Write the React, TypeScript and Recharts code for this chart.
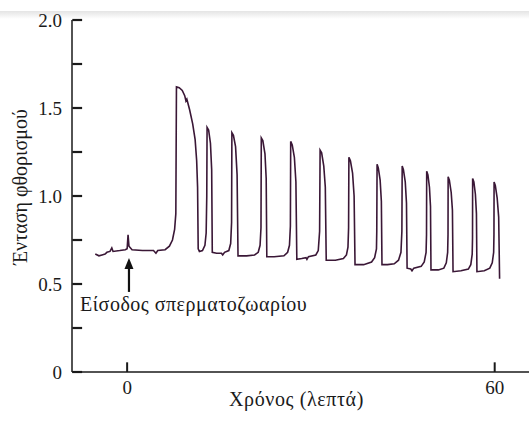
import React from 'react';
import {
  LineChart,
  Line,
  XAxis,
  YAxis,
  ReferenceLine,
  ReferenceDot,
  Customized,
} from 'recharts';

// time in minutes (sperm entry at 0) and fluorescence intensity
const timeMin = [
  -5.2, -4.6, -4.1, -3.6, -3.3, -2.8, -2.5, -2.3, -1.2, -0.3, 0.0, 0.15, 0.3, 0.8, 2.5, 4.3, 4.7, 5.0, 6.2, 6.9,
  7.4, 7.75, 7.95, 8.05, 8.5, 9.0, 9.4, 9.6, 9.75, 10.2, 10.7, 11.1, 11.35, 11.5, 11.6,
  11.8, 12.3, 12.7, 12.9, 13.0, 13.05, 13.3, 13.6, 13.8, 13.9,
  14.6, 15.4, 15.6, 15.9, 16.6, 16.9, 17.05, 17.1, 17.35, 17.7, 17.95, 18.1,
  19.5, 20.8, 21.4, 21.7, 21.85, 21.9, 22.15, 22.5, 22.7, 22.8,
  24.0, 25.6, 26.2, 26.5, 26.65, 26.7, 26.95, 27.3, 27.55, 27.7,
  28.5, 29.2, 29.35, 29.6, 30.8, 31.2, 31.42, 31.5, 31.75, 32.1, 32.35, 32.5,
  34.0, 35.3, 35.8, 36.05, 36.15, 36.2, 36.45, 36.8, 37.05, 37.2,
  38.6, 39.9, 40.4, 40.7, 40.75, 40.8, 41.0, 41.3, 41.5, 41.6,
  42.5, 43.6, 44.3, 44.7, 44.85, 44.9, 45.1, 45.4, 45.6, 45.7,
  46.3, 46.5, 46.8, 48.0, 48.5, 48.8, 48.87, 48.9, 49.1, 49.35, 49.52, 49.6,
  50.8, 51.7, 52.1, 52.32, 52.38, 52.4, 52.6, 52.9, 53.1, 53.2,
  54.5, 55.7, 56.1, 56.33, 56.38, 56.4, 56.6, 56.85, 57.02, 57.1,
  58.3, 59.2, 59.6, 59.83, 59.88, 59.9, 60.1, 60.4, 60.65, 60.8,
];

const intensity = [
  0.67, 0.66, 0.665, 0.67, 0.68, 0.685, 0.705, 0.685, 0.69, 0.695, 0.7, 0.78, 0.715, 0.695, 0.69, 0.69, 0.675, 0.69, 0.695, 0.715,
  0.75, 0.81, 0.9, 1.62, 1.615, 1.6, 1.57, 1.54, 1.55, 1.49, 1.41, 1.32, 1.2, 1.05, 0.7,
  0.685, 0.69, 0.72, 0.79, 1.0, 1.39, 1.375, 1.3, 1.15, 0.68,
  0.675, 0.675, 0.665, 0.68, 0.69, 0.73, 0.85, 1.36, 1.345, 1.28, 1.12, 0.66,
  0.66, 0.665, 0.68, 0.72, 0.82, 1.33, 1.315, 1.24, 1.1, 0.655,
  0.655, 0.66, 0.68, 0.72, 0.83, 1.31, 1.29, 1.22, 1.08, 0.64,
  0.645, 0.65, 0.64, 0.655, 0.665, 0.69, 0.8, 1.26, 1.245, 1.17, 1.05, 0.635,
  0.635, 0.645, 0.665, 0.71, 0.82, 1.22, 1.2, 1.13, 1.0, 0.61,
  0.61, 0.625, 0.65, 0.7, 0.8, 1.18, 1.16, 1.09, 0.97, 0.61,
  0.61, 0.615, 0.635, 0.68, 0.8, 1.17, 1.15, 1.08, 0.96, 0.59,
  0.585, 0.575, 0.59, 0.6, 0.625, 0.68, 0.78, 1.14, 1.12, 1.05, 0.94, 0.58,
  0.58, 0.59, 0.62, 0.68, 0.78, 1.11, 1.09, 1.02, 0.92, 0.57,
  0.575, 0.585, 0.61, 0.67, 0.76, 1.1, 1.08, 1.01, 0.9, 0.57,
  0.575, 0.59, 0.62, 0.68, 0.78, 1.08, 1.06, 0.99, 0.88, 0.53,
];

const xTicks = [0, 60];
const yTicks = [0, 0.25, 0.5, 0.75, 1.0, 1.25, 1.5, 1.75, 2.0];

const X_MIN = -9;
const X_MAX = 65.6;
const Y_MAX = 2;

const data = timeMin.map((t, i) => ({ t, v: intensity[i] }));

const FONT = "'Liberation Serif', 'Times New Roman', Times, serif";
const INK = '#1a1a1a';

// inward tick length, in data units (about 10px on each axis)
const Y_TICK_LEN = 1.65;
const X_TICK_LEN = 0.055;

function yLabel(v: number) {
  if (v === 0) return '0';
  return (v * 2) % 1 === 0 ? v.toFixed(1) : '';
}

function ArrowHead({ cx, cy }: { cx?: number; cy?: number }) {
  if (cx == null || cy == null) return null;
  return <path d={`M${cx},${cy} L${cx - 4.5},${cy + 11} L${cx + 4.5},${cy + 11} Z`} fill="#111" />;
}

function Annotations() {
  return (
    <g fill={INK} fontFamily={FONT}>
      <text x={20} y={187} fontSize={20} textAnchor="middle" dominantBaseline="central" transform="rotate(-90 20 187)">
        Ένταση φθορισμού
      </text>
      <text x={80} y={311} fontSize={20} letterSpacing={0.5}>
        Είσοδος σπερματοζωαρίου
      </text>
    </g>
  );
}

export default function App() {
  const yTickLines = yTicks.map((v) => (
    <ReferenceLine
      key={`yt${v}`}
      segment={[
        { x: X_MIN + 0.05, y: v },
        { x: X_MIN + Y_TICK_LEN, y: v },
      ]}
      ifOverflow="visible"
      stroke={INK}
      strokeWidth={2.2}
    />
  ));
  const xTickLines = xTicks.map((t) => (
    <ReferenceLine
      key={`xt${t}`}
      segment={[
        { x: t, y: 0 },
        { x: t, y: X_TICK_LEN },
      ]}
      ifOverflow="visible"
      stroke={INK}
      strokeWidth={2}
    />
  ));

  return (
    <div style={{ position: 'absolute', left: 0, top: 0, width: 529, height: 421, background: '#fff' }}>
      <div
        style={{
          position: 'absolute',
          left: 0,
          top: 11,
          width: 529,
          height: 8,
          background: 'linear-gradient(#e4e4e4, #ffffff)',
        }}
      />
      <LineChart
        width={529}
        height={421}
        data={data}
        margin={{ top: 20, right: 0, bottom: 11, left: 0 }}
        style={{ position: 'absolute', left: 0, top: 0 }}
      >
        <XAxis
          dataKey="t"
          type="number"
          domain={[X_MIN, X_MAX]}
          allowDataOverflow
          ticks={xTicks}
          height={38}
          tickSize={0}
          tickMargin={9}
          tickLine={false}
          axisLine={{ stroke: INK, strokeWidth: 1.5 }}
          tick={{ fontSize: 19, fill: INK, fontFamily: FONT }}
          label={{
            value: 'Χρόνος (λεπτά)',
            position: 'insideBottom',
            offset: 4,
            dx: -4,
            style: { fontSize: 20, fill: INK, fontFamily: FONT, letterSpacing: 0.6 },
          }}
        />
        <YAxis
          type="number"
          domain={[0, Y_MAX]}
          allowDataOverflow
          ticks={yTicks}
          width={72}
          tickSize={0}
          tickMargin={10}
          interval={0}
          tickLine={false}
          axisLine={{ stroke: INK, strokeWidth: 1.5 }}
          tick={{ fontSize: 19, fill: INK, fontFamily: FONT }}
          tickFormatter={yLabel}
        />
        {yTickLines}
        {xTickLines}
        <Line
          type="linear"
          dataKey="v"
          stroke="#3a1736"
          strokeWidth={1.6}
          dot={false}
          isAnimationActive={false}
        />
        <ReferenceLine
          segment={[
            { x: 0.3, y: 0.455 },
            { x: 0.3, y: 0.6 },
          ]}
          stroke="#111"
          strokeWidth={2.2}
        />
        <ReferenceDot x={0.3} y={0.648} r={0} shape={<ArrowHead />} />
        <Customized component={<Annotations />} />
      </LineChart>
    </div>
  );
}
